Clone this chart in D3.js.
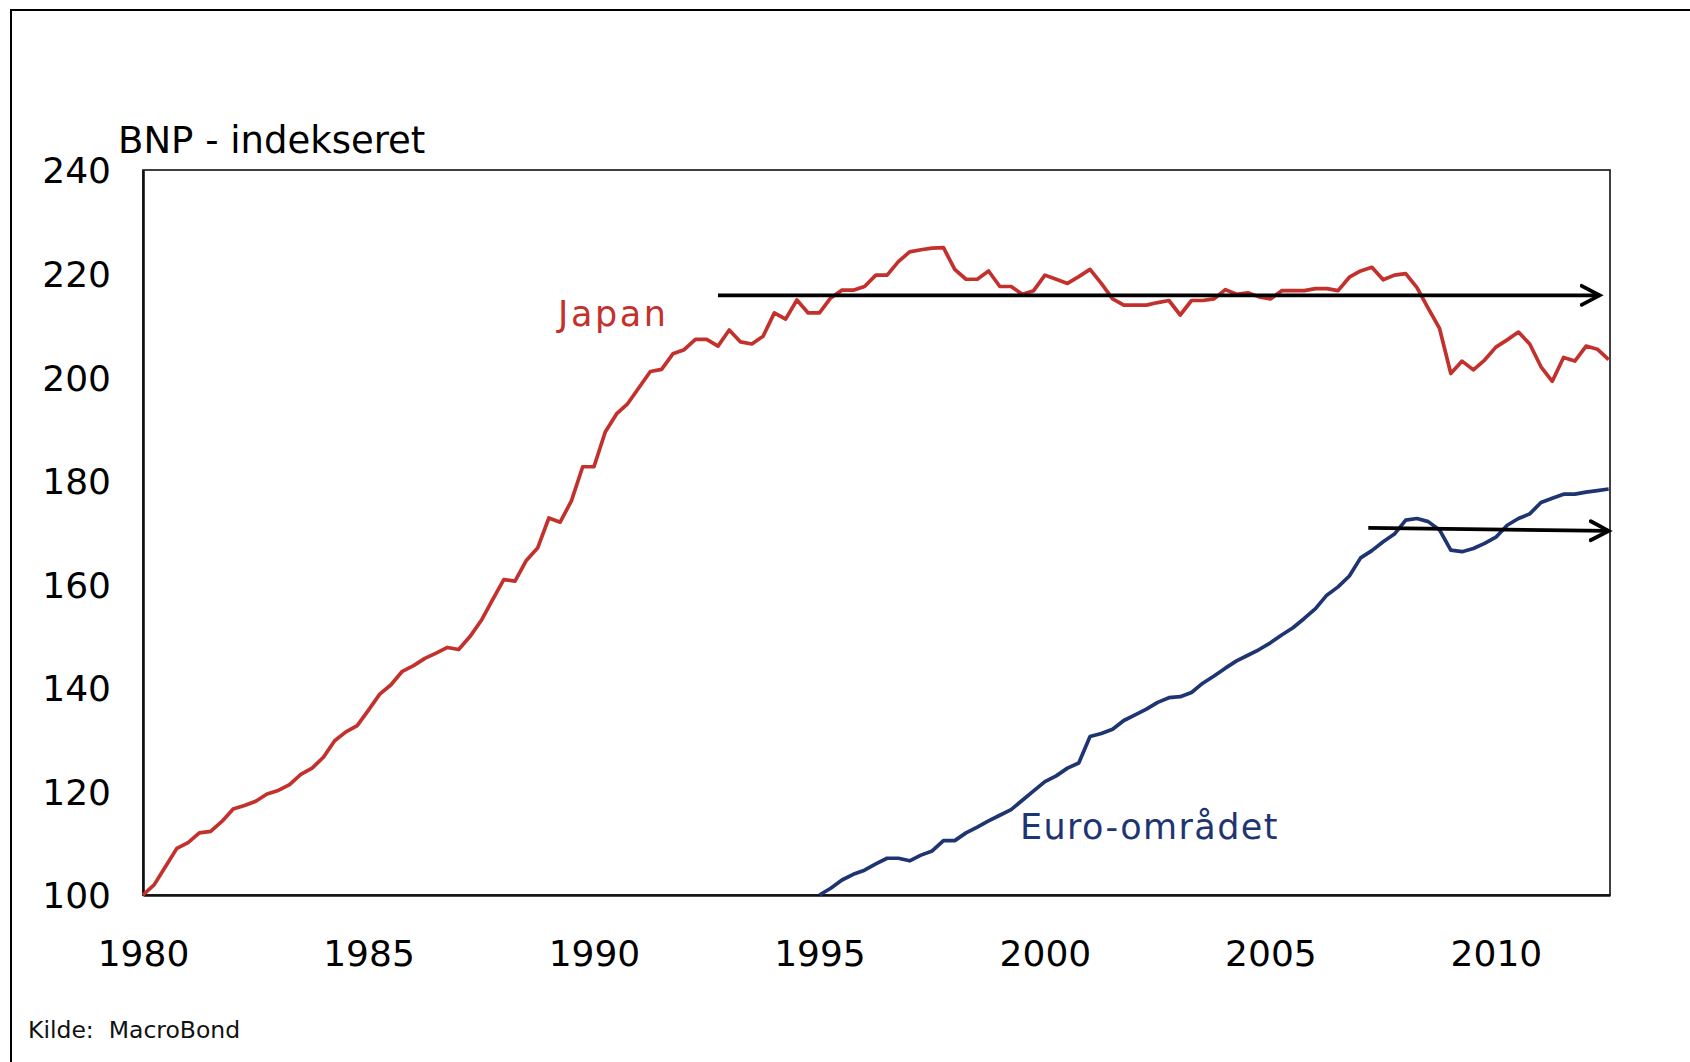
<!DOCTYPE html>
<html>
<head>
<meta charset="utf-8">
<script src="https://cdn.jsdelivr.net/npm/d3@7"></script>
<style>
  body { margin: 0; background: #fff; }
  svg { display: block; font-family: "DejaVu Sans", Verdana, sans-serif; }
</style>
</head>
<body>
<svg width="1690" height="1062"></svg>
<script>
// quarterly GDP index, Japan from 1980Q1, euro area from 1995Q1
const japanStart = 1980;
const japan = [
  100, 102, 105.5, 109, 110.1, 112, 112.3, 114.2, 116.6, 117.3, 118.1, 119.5,
  120.2, 121.3, 123.3, 124.5, 126.6, 129.8, 131.5, 132.7, 135.7, 138.8, 140.6, 143.2,
  144.3, 145.7, 146.7, 147.8, 147.4, 149.9, 153.0, 157.0, 160.9, 160.6, 164.6, 167.0,
  172.8, 172.0, 176.1, 182.7, 182.7, 189.4, 192.9, 194.9, 198.0, 201.1, 201.5, 204.5,
  205.3, 207.3, 207.3, 206.0, 209.1, 206.8, 206.4, 207.9, 212.4, 211.2, 214.9, 212.4,
  212.4, 215.3, 216.8, 216.8, 217.5, 219.7, 219.7, 222.3, 224.2, 224.6, 224.9, 225.0,
  220.8, 218.9, 218.9, 220.5, 217.5, 217.5, 216.0, 216.7, 219.7, 218.9, 218.1, 219.4,
  220.8, 218.1, 215.1, 213.9, 213.9, 213.9, 214.4, 214.8, 212.0, 214.8, 214.8, 215.1,
  216.9, 216.0, 216.3, 215.5, 215.1, 216.7, 216.7, 216.7, 217.1, 217.1, 216.7, 219.3,
  220.5, 221.2, 218.8, 219.7, 220.0, 217.3, 213.3, 209.4, 200.7, 203.1, 201.4, 203.3,
  205.8, 207.2, 208.7, 206.4, 202.0, 199.2, 203.8, 203.1, 206.0, 205.4, 203.4
];
const euroStart = 1995;
const euro = [
  100, 101.3, 102.9, 104.0, 104.8, 106.0, 107.1, 107.1, 106.6, 107.7, 108.5, 110.5,
  110.5, 112.0, 113.1, 114.3, 115.4, 116.5, 118.3, 120.1, 121.9, 123.0, 124.5, 125.5,
  130.6, 131.2, 132.0, 133.7, 134.8, 135.9, 137.2, 138.1, 138.3, 139.1, 140.9, 142.3,
  143.8, 145.2, 146.3, 147.4, 148.7, 150.2, 151.6, 153.4, 155.3, 157.9, 159.5, 161.6,
  165.1, 166.5, 168.2, 169.7, 172.4, 172.7, 172.1, 170.5, 166.6, 166.3, 166.9, 167.9,
  169.1, 171.4, 172.7, 173.6, 175.8, 176.6, 177.4, 177.4, 177.8, 178.1, 178.4
];
const yearTicks = [1980, 1985, 1990, 1995, 2000, 2005, 2010];
const valueTicks = [100, 120, 140, 160, 180, 200, 220, 240];
// flat-level arrows: [startYear, startValue, endYear, endValue]
const japanArrow = [1992.75, 215.8, 2012.3, 215.8];
const euroArrow = [2007.17, 170.9, 2012.5, 170.3];

const red = "#c3312d";
const blue = "#1f3572";

const svg = d3.select("svg");
const plotLeft = 143, plotRight = 1610, plotTop = 170, plotBottom = 895;

const x = d3.scaleLinear().domain([1980, 2012.53]).range([plotLeft, plotRight]);
const y = d3.scaleLinear().domain([100, 240]).range([plotBottom, plotTop]);

// outer frame
svg.append("rect")
  .attr("x", 11).attr("y", 10)
  .attr("width", 1720).attr("height", 1100)
  .attr("fill", "none").attr("stroke", "#000").attr("stroke-width", 2);

// plot frame
svg.append("rect")
  .attr("x", plotLeft).attr("y", plotTop)
  .attr("width", plotRight - plotLeft).attr("height", plotBottom - plotTop)
  .attr("fill", "none").attr("stroke", "#111").attr("stroke-width", 1.6);

// axes
const yAxis = svg.append("g")
  .attr("transform", `translate(${plotLeft},0)`)
  .call(d3.axisLeft(y).tickValues(valueTicks).tickSize(0).tickPadding(32));
const xAxis = svg.append("g")
  .attr("transform", `translate(0,${plotBottom})`)
  .call(d3.axisBottom(x).tickValues(yearTicks).tickFormat(d3.format("d")).tickSize(0).tickPadding(45));

[yAxis, xAxis].forEach(g => {
  g.select(".domain").attr("stroke", "#111").attr("stroke-width", 2.6);
  g.selectAll("text")
    .attr("font-family", "DejaVu Sans, Verdana, sans-serif")
    .attr("font-size", 36)
    .attr("fill", "#000");
});
yAxis.selectAll("text").attr("dy", "0.36em");

// series
const line = start => d3.line()
  .x((d, i) => x(start + i / 4))
  .y(d => y(d));

svg.append("path")
  .datum(japan)
  .attr("d", line(japanStart))
  .attr("fill", "none")
  .attr("stroke", red)
  .attr("stroke-width", 3.7)
  .attr("stroke-linejoin", "round");

svg.append("path")
  .datum(euro)
  .attr("d", line(euroStart))
  .attr("fill", "none")
  .attr("stroke", blue)
  .attr("stroke-width", 3.7)
  .attr("stroke-linejoin", "round");

// arrows
svg.append("defs").append("marker")
  .attr("id", "head")
  .attr("markerUnits", "userSpaceOnUse")
  .attr("markerWidth", 40).attr("markerHeight", 40)
  .attr("refX", 0).attr("refY", 0)
  .attr("viewBox", "-20 -20 40 40")
  .attr("orient", "auto")
  .append("path")
  .attr("d", "M-18,-9.5L0,0L-18,9.5")
  .attr("fill", "none")
  .attr("stroke", "#000")
  .attr("stroke-width", 3.8)
  .attr("stroke-linecap", "round");

[japanArrow, euroArrow].forEach(a => {
  svg.append("line")
    .attr("x1", x(a[0])).attr("y1", y(a[1]))
    .attr("x2", x(a[2])).attr("y2", y(a[3]))
    .attr("stroke", "#000")
    .attr("stroke-width", 3.8)
    .attr("marker-end", "url(#head)");
});

// labels
svg.append("text")
  .attr("x", 118).attr("y", 153)
  .attr("font-size", 37)
  .text("BNP - indekseret");

svg.append("text")
  .attr("x", 558).attr("y", 326)
  .attr("font-size", 35)
  .attr("letter-spacing", 2.6)
  .attr("fill", red)
  .text("Japan");

svg.append("text")
  .attr("x", 1020).attr("y", 839)
  .attr("font-size", 35)
  .attr("letter-spacing", 1.4)
  .attr("fill", blue)
  .text("Euro-området");

svg.append("text")
  .attr("x", 28).attr("y", 1038)
  .attr("font-size", 23.5)
  .attr("fill", "#111")
  .style("white-space", "pre")
  .text("Kilde:  MacroBond");
</script>
</body>
</html>
